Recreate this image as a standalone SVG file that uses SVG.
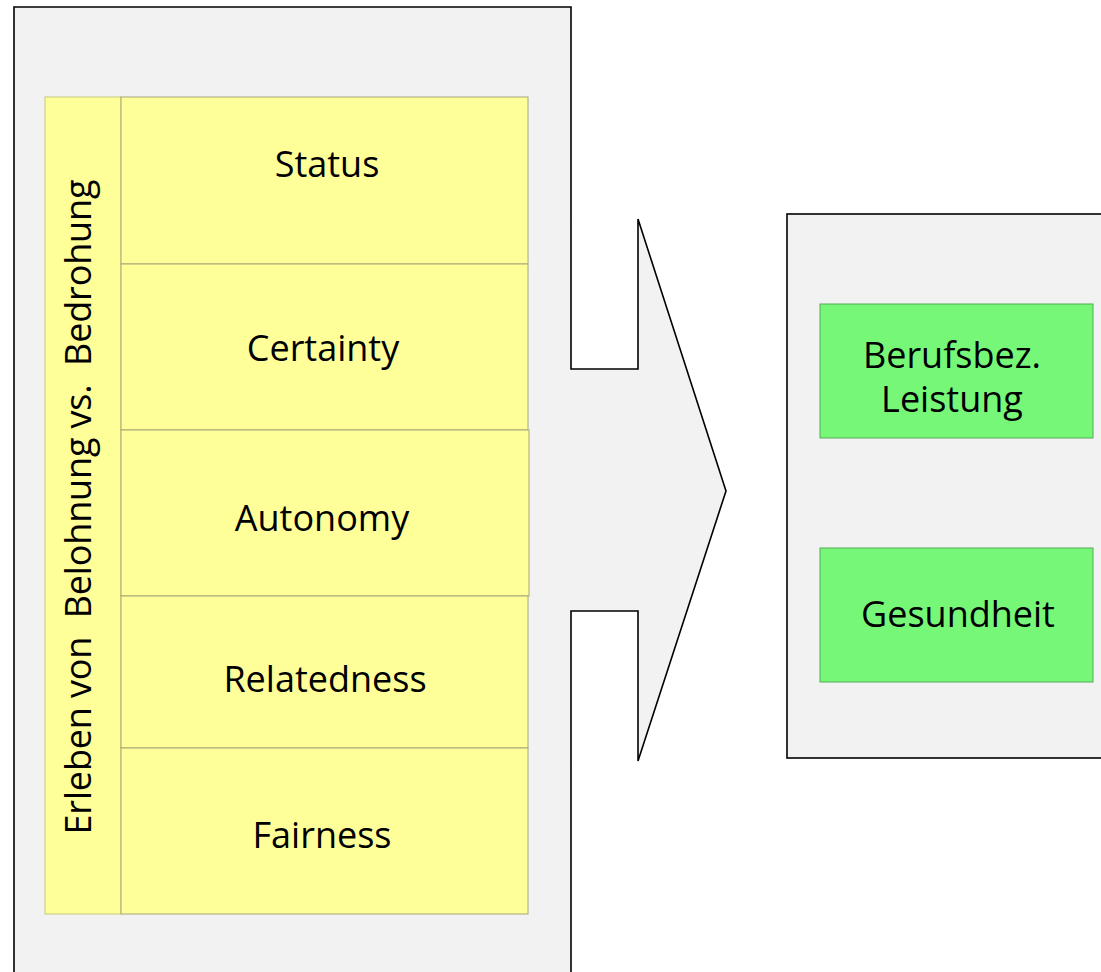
<svg xmlns="http://www.w3.org/2000/svg" width="1101" height="972" viewBox="0 0 1101 972">
  <style>
    .frame { fill: #f2f2f2; stroke: #000; stroke-width: 1.6; }
    .cell { fill: #ffff99; stroke: #a6a679; stroke-width: 1; }
    .side { fill: #ffff99; stroke: #c8c87a; stroke-width: 1; }
    .green { fill: #77f777; stroke: #55aa55; stroke-width: 1; }
    .lbl { font-family: "Open Sans", "Noto Sans", "Liberation Sans", sans-serif; font-size: 36px; fill: #000; text-anchor: middle; }
  </style>
  <rect width="1101" height="972" fill="#ffffff"/>
  <g id="source-frame">
    <polygon class="frame" points="14,7 571,7 571,369 638,369 638,219 726,491 638,761 638,611 571,611 571,980 14,980"/>
  </g>
  <g id="side-label">
    <rect class="side" x="45" y="97" width="76" height="817"/>
    <text class="lbl" transform="translate(91,507) rotate(-90)" textLength="655" lengthAdjust="spacing" xml:space="preserve">Erleben von  Belohnung vs.  Bedrohung</text>
  </g>
  <g id="status">
    <rect class="cell" x="121" y="97" width="407" height="167"/>
    <text class="lbl" x="327" y="177">Status</text>
  </g>
  <g id="certainty">
    <rect class="cell" x="121" y="264" width="407" height="166"/>
    <text class="lbl" x="323" y="361">Certainty</text>
  </g>
  <g id="autonomy">
    <rect class="cell" x="121" y="430" width="408" height="166"/>
    <text class="lbl" x="322" y="531">Autonomy</text>
  </g>
  <g id="relatedness">
    <rect class="cell" x="121" y="596" width="407" height="152"/>
    <text class="lbl" x="325" y="692">Relatedness</text>
  </g>
  <g id="fairness">
    <rect class="cell" x="121" y="748" width="407" height="166"/>
    <text class="lbl" x="322" y="848">Fairness</text>
  </g>
  <g id="target-frame">
    <rect class="frame" x="787" y="214" width="330" height="544"/>
  </g>
  <g id="leistung">
    <rect class="green" x="820" y="304" width="273" height="134"/>
    <text class="lbl"><tspan x="952" y="368">Berufsbez.</tspan><tspan x="952" y="412">Leistung</tspan></text>
  </g>
  <g id="gesundheit">
    <rect class="green" x="820" y="548" width="273" height="134"/>
    <text class="lbl" x="958" y="627">Gesundheit</text>
  </g>
  <g id="connectors"></g>
</svg>
